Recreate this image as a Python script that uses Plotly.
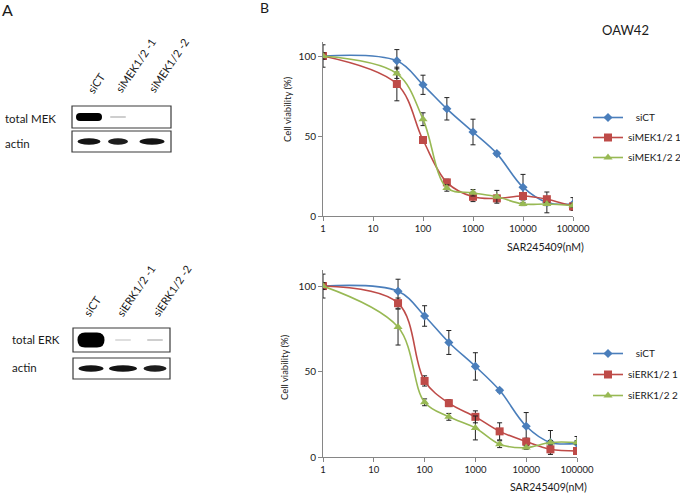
import plotly.graph_objects as go

W, H = 680, 496

# ---------------- data ----------------
conc = [1, 30, 100, 300, 1000, 3000, 10000, 30000, 100000]
x_tickvals = [1, 10, 100, 1000, 10000, 100000]
x_ticktext = ["1", "10", "100", "1000", "10000", "100000"]
y_tickvals = [0, 50, 100]
y_ticktext = ["0", "50", "100"]

mek_names = ["\u00a0\u00a0\u00a0siCT", "siMEK1/2 1", "siMEK1/2 2"]
mek_siCT = [100, 97, 82, 67, 52.5, 39, 18, 8.5, 7.5]
mek_si1 = [100, 82.5, 47.5, 21, 12, 11, 12.5, 10.5, 6]
mek_si2 = [100, 89, 60.5, 17.5, 14.5, 12, 7.5, 7.5, 6.5]
mek_siCT_err = [7, 7, 6, 7, 8, 1, 8, 6.5, 4]
mek_si1_err = [2, 10.5, 1.5, 2, 3, 2, 2, 1, 1]
mek_si2_err = [2, 3, 4, 2, 2, 4, 1, 1, 1]

erk_names = ["\u00a0\u00a0\u00a0siCT", "siERK1/2 1", "siERK1/2 2"]
erk_siCT = [100, 97, 82.5, 67, 53, 39, 18, 8.5, 8]
erk_si1 = [100, 90, 44.5, 31.5, 23.5, 15, 9, 4.5, 3.5]
erk_si2 = [100, 76, 32, 23.5, 17, 7.5, 5.5, 8.5, 8.5]
erk_siCT_err = [7, 7, 6, 7, 8, 1, 8, 7, 4]
erk_si1_err = [2, 3, 3, 2, 3.5, 5, 2, 2, 1]
erk_si2_err = [2, 10.5, 2, 2, 7, 2, 1, 1, 1]

x_title = "SAR245409(nM)"
y_title = "Cell viability (%)"
cell_line = "OAW42"

mek_lanes = ["siCT", "siMEK1/2 -1", "siMEK1/2 -2"]
erk_lanes = ["siCT", "siERK1/2 -1", "siERK1/2 -2"]
mek_band = [1.0, 0.12, 0.0]
mek_actin = [0.92, 0.88, 0.92]
erk_band = [1.0, 0.08, 0.12]
erk_actin = [0.92, 0.92, 0.88]

# ---------------- styles ----------------
colors = ["#4A7EBB", "#BE4B48", "#98B954"]
symbols = ["diamond", "square", "triangle-up"]
msizes = [7, 8, 8]
FONT = "Lato"
TXT = "#1a1a1a"


def px(x):
    return x / W


def py(y):
    return 1 - y / H


fig = go.Figure()

panels = [
    (mek_names, [mek_siCT, mek_si1, mek_si2], [mek_siCT_err, mek_si1_err, mek_si2_err], "x", "y", "legend", "m"),
    (erk_names, [erk_siCT, erk_si1, erk_si2], [erk_siCT_err, erk_si1_err, erk_si2_err], "x2", "y2", "legend2", "e"),
]
for names, series, errs, xa, ya, lg, tag in panels:
    for i in range(3):
        fig.add_trace(go.Scatter(
            x=conc, y=series[i], name=names[i], mode="lines+markers",
            line=dict(color=colors[i], width=1.6, shape="spline"),
            marker=dict(symbol=symbols[i], size=msizes[i], color=colors[i]),
            error_y=dict(type="data", array=errs[i], color="#222222", thickness=1, width=2.5),
            xaxis=xa, yaxis=ya, legend=lg, legendgroup=f"{tag}{i}",
        ))

xaxis_common = dict(
    type="log", range=[0, 5], tickvals=x_tickvals, ticktext=x_ticktext,
    showline=True, linecolor="#868686", linewidth=1, ticks="outside",
    ticklen=4, tickcolor="#868686", showgrid=False, zeroline=False,
    tickfont=dict(family=FONT, size=9.5, color=TXT),
)
yaxis_common = dict(
    tickvals=y_tickvals, ticktext=y_ticktext,
    showline=True, linecolor="#868686", linewidth=1, ticks="outside",
    ticklen=4, tickcolor="#868686", showgrid=False, zeroline=False,
    tickfont=dict(family=FONT, size=10, color=TXT),
)

legend_common = dict(
    bgcolor="rgba(0,0,0,0)", font=dict(family=FONT, size=10, color=TXT),
    xanchor="left", yanchor="top", itemwidth=30,
)

fig.update_layout(
    width=W, height=H, margin=dict(l=0, r=0, t=0, b=0, autoexpand=False),
    paper_bgcolor="white", plot_bgcolor="white",
    showlegend=True,
    xaxis=dict(domain=[px(323), px(573)], anchor="y", **xaxis_common),
    yaxis=dict(domain=[py(216), py(42)], anchor="x", range=[0, 108.75], **yaxis_common),
    xaxis2=dict(domain=[px(323), px(577)], anchor="y2", **xaxis_common),
    yaxis2=dict(domain=[py(457), py(270)], anchor="x2", range=[0, 109.4], **yaxis_common),
    legend=dict(x=px(588), y=py(103), tracegroupgap=1, **legend_common),
    legend2=dict(x=px(588), y=py(339), tracegroupgap=2, **legend_common),
)

annotations = []


def txt(text, x, y, size, xanchor="center", yanchor="middle", angle=0):
    annotations.append(dict(text=text, x=px(x), y=py(y), xref="paper", yref="paper",
                            xanchor=xanchor, yanchor=yanchor, textangle=angle, showarrow=False,
                            font=dict(family=FONT, size=size, color=TXT)))


# axis titles and labels
txt(x_title, 545, 247, 10.5)
txt(x_title, 548, 487, 10.5)
txt(y_title, 288, 109, 9.5, angle=-90)
txt(y_title, 284, 367, 9.5, angle=-90)
txt(cell_line, 625, 30, 13)
txt("A", 7, 9, 16)
txt("B", 264, 8, 14)

shapes = []


def rrect(x0, y0, x1, y1, r, color, opacity=1.0):
    X0, X1 = px(x0), px(x1)
    Y0, Y1 = py(y0), py(y1)
    rx, ry = r / W, r / H
    path = (f"M{X0 + rx},{Y0} L{X1 - rx},{Y0} Q{X1},{Y0} {X1},{Y0 - ry} "
            f"L{X1},{Y1 + ry} Q{X1},{Y1} {X1 - rx},{Y1} L{X0 + rx},{Y1} "
            f"Q{X0},{Y1} {X0},{Y1 + ry} L{X0},{Y0 - ry} Q{X0},{Y0} {X0 + rx},{Y0} Z")
    shapes.append(dict(type="path", path=path, xref="paper", yref="paper",
                       line=dict(width=0), fillcolor=color, opacity=opacity))


def blot(box_l, box_r, box_top, box_bot, actin_top, actin_bot, lane_x, lanes, lbl_x, lbl_y,
         band, band_w, band_h, actin, actin_w, row_lbl, row_x, row_y, actin_y):
    for (t, b) in [(box_top, box_bot), (actin_top, actin_bot)]:
        shapes.append(dict(type="rect", xref="paper", yref="paper",
                           x0=px(box_l), x1=px(box_r), y0=py(b), y1=py(t),
                           line=dict(color="#3a3a3a", width=1.2), fillcolor="white"))
    cy = (box_top + box_bot) / 2
    for i, v in enumerate(band):
        if v <= 0:
            continue
        if v > 0.5:
            g = int(255 * (1 - v))
            rrect(lane_x[i] - band_w / 2, cy - band_h / 2, lane_x[i] + band_w / 2, cy + band_h / 2,
                  min(band_w, band_h) / 2, f"rgb({g},{g},{g})")
        else:
            g = int(255 * (1 - 1.6 * v))
            rrect(lane_x[i] - 8, cy - 1, lane_x[i] + 8, cy + 1, 1, f"rgb({g},{g},{g})")
    ay = (actin_top + actin_bot) / 2
    for i, v in enumerate(actin):
        g = int(255 * (1 - v))
        shapes.append(dict(type="circle", xref="paper", yref="paper",
                           x0=px(lane_x[i] - actin_w[i] / 2), x1=px(lane_x[i] + actin_w[i] / 2),
                           y0=py(ay + 3.2), y1=py(ay - 3.2),
                           line=dict(width=0), fillcolor=f"rgb({g},{g},{g})"))
    for i, name in enumerate(lanes):
        txt(name, lbl_x[i], lbl_y, 11, xanchor="left", yanchor="bottom", angle=-56)
    txt(row_lbl, row_x, row_y, 11.5, xanchor="left")
    txt("actin", row_x, actin_y, 11.5, xanchor="left")


blot(72, 171, 106, 128, 131, 152, [89, 118, 152], mek_lanes, [82, 110, 143], 98,
     mek_band, 26, 8, mek_actin, [23, 20, 25], "total MEK", 3, 118, 144)
blot(73, 170, 328, 352, 358, 379, [91, 123, 155], erk_lanes, [78, 111, 147], 321,
     erk_band, 27, 15, erk_actin, [25, 28, 23], "total ERK", 10, 339, 367)

fig.update_layout(annotations=annotations, shapes=shapes)
fig.write_html("out.html", config={"displayModeBar": False},
               post_script="document.body.style.margin='0';")
